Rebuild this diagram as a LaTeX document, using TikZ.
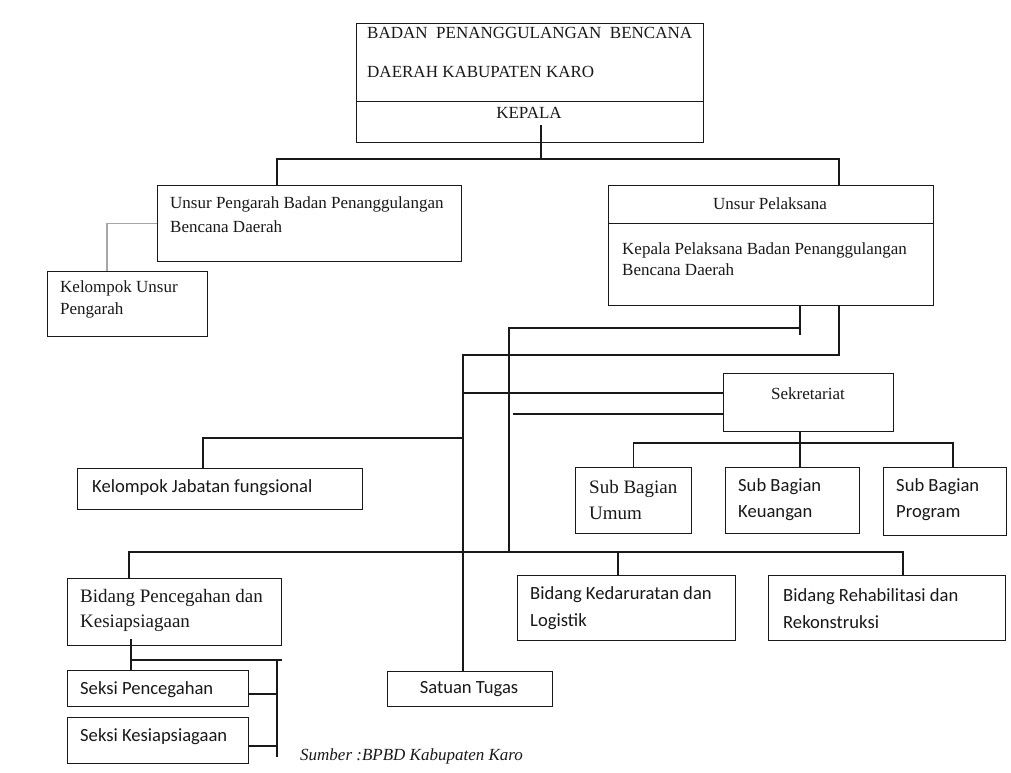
\documentclass[tikz,border=0pt]{standalone}
\usepackage{fontspec}
\setmainfont{Liberation Serif}
\newfontfamily\calibrifont{Carlito}

\tikzset{
  box/.style={draw=black!90, line width=1.4pt, anchor=north west, inner sep=0pt},
  size/.style 2 args={minimum width=#1, minimum height=#2},
  conn/.style={draw=black!90, line width=1.3pt},
  txt/.style={text=black!90, inner sep=0pt, align=left},
  rm/.style={txt, font=\fontsize{17}{24}\selectfont},
  rmbig/.style={txt, font=\fontsize{19}{25}\selectfont},
  sf/.style={txt, font=\calibrifont\fontsize{18.6}{27}\selectfont},
}

\begin{document}
\begin{tikzpicture}[x=1pt, y=-1pt]
        \useasboundingbox[fill=white] (0,0) rectangle (1011,772);

        % head
        \node[box, size={347pt}{78pt}] (head) at (356,23) {};
        \node[box, size={347pt}{41pt}] (kepala) at (356,101) {};
        \node[rm, anchor=west] (head-t1) at (367,33) {\hbox to 325pt{BADAN\hfill PENANGGULANGAN\hfill BENCANA}};
        \node[rm, anchor=west] (head-t2) at (367,72) {DAERAH KABUPATEN KARO};
        \node[rm] (kepala-t) at (529,113) {KEPALA};

        % unsur pengarah
        \node[box, size={304pt}{76pt}] (pengarah) at (157,185) {};
        \node[rm, anchor=west] (pengarah-t) at (170,215) {Unsur Pengarah Badan Penanggulangan\\Bencana Daerah};
        \node[box, size={160pt}{65pt}] (kup) at (47,271) {};
        \node[rm, anchor=west, font=\fontsize{17}{22}\selectfont] (kup-t) at (60,299) {Kelompok Unsur\\Pengarah};

        % unsur pelaksana
        \node[box, size={325pt}{38pt}] (pelhead) at (608,185) {};
        \node[box, size={325pt}{82pt}] (pelbody) at (608,223) {};
        \node[rm] (pelhead-t) at (770,204) {Unsur Pelaksana};
        \node[rm, anchor=west, font=\fontsize{17}{21}\selectfont] (pelbody-t) at (622,259) {Kepala Pelaksana Badan Penanggulangan\\Bencana Daerah};

        % sekretariat
        \node[box, size={170pt}{58pt}] (sekretariat) at (723,373) {};
        \node[rm] (sekretariat-t) at (808,394) {Sekretariat};
        \node[box, size={116pt}{66pt}] (umum) at (575,467) {};
        \node[rmbig, anchor=west, font=\fontsize{19}{26}\selectfont] (umum-t) at (589,500) {Sub Bagian\\Umum};
        \node[box, size={134pt}{66pt}] (keuangan) at (725,467) {};
        \node[sf, anchor=west, font=\calibrifont\fontsize{18.6}{26}\selectfont] (keuangan-t) at (738,500) {Sub Bagian\\Keuangan};
        \node[box, size={123pt}{68pt}] (program) at (883,467) {};
        \node[sf, anchor=west, font=\calibrifont\fontsize{18.6}{26}\selectfont] (program-t) at (896,500) {Sub Bagian\\Program};

        % jabatan fungsional
        \node[box, size={285pt}{41pt}] (jabatan) at (77,468) {};
        \node[sf, anchor=west] (jabatan-t) at (92,488) {Kelompok Jabatan fungsional};

        % bidang
        \node[box, size={214pt}{67pt}] (pencegahan) at (67,578) {};
        \node[rmbig, anchor=west] (pencegahan-t) at (80,610) {Bidang Pencegahan dan\\Kesiapsiagaan};
        \node[box, size={218pt}{65pt}] (darurat) at (517,575) {};
        \node[sf, anchor=west] (darurat-t) at (530,608) {Bidang Kedaruratan dan\\Logistik};
        \node[box, size={237pt}{65pt}] (rehab) at (768,575) {};
        \node[sf, anchor=west] (rehab-t) at (783,609) {Bidang Rehabilitasi dan\\Rekonstruksi};

        % seksi
        \node[box, size={181pt}{36pt}] (seksi1) at (67,670) {};
        \node[sf, anchor=west] (seksi1-t) at (80,690) {Seksi Pencegahan};
        \node[box, size={181pt}{46pt}] (seksi2) at (67,717) {};
        \node[sf, anchor=west] (seksi2-t) at (80,737) {Seksi Kesiapsiagaan};

        % satuan tugas
        \node[box, size={165pt}{35pt}] (satgas) at (387,671) {};
        \node[sf] (satgas-t) at (469,689) {Satuan Tugas};

        % source
        \node[txt, anchor=west, font=\itshape\fontsize{17}{20}\selectfont] (sumber) at (300,756) {Sumber :BPBD Kabupaten Karo};

        % junctions
        \coordinate (kepala-stem) at (541,125);
        \coordinate (top-bar) at (541,159);
        \coordinate (stem-a) at (800,335);
        \coordinate (bus-a) at (800,328);
        \coordinate (bus-b) at (463,355);
        \coordinate (bus-low) at (509,552);
        \coordinate (sek-bar) at (953,443);
        \coordinate (seksi-bar) at (277,660);

        % top lines
        \draw[conn] (kepala-stem) -- (top-bar);
        \draw[conn] (277,0 |- pengarah.north) |- (top-bar) -| (839,0 |- pelhead.north);
        \draw[conn, draw=gray!70] (pengarah.west) -| (107,0 |- kup.north);

        % lines below pelaksana
        \draw[conn] (stem-a |- pelbody.south) -- (stem-a);
        \draw[conn] (bus-a) -| (bus-low);
        \draw[conn] (839,0 |- pelbody.south) |- (bus-b) -- (bus-b |- satgas.north);
        \draw[conn] (bus-b |- 0,393) -- (sekretariat.west |- 0,393);
        \draw[conn] (513,414) -- (sekretariat.west |- 0,414);
        \draw[conn] (bus-b |- 0,438) -| (203,0 |- jabatan.north);
        \draw[conn] (bus-low) -| (129,0 |- pencegahan.north);
        \draw[conn] (bus-low) -| (903,0 |- rehab.north);
        \draw[conn] (618,0 |- bus-low) -- (618,0 |- darurat.north);

        % sekretariat lines
        \draw[conn] (800,0 |- sekretariat.south) -- (800,0 |- keuangan.north);
        \draw[conn] (umum.north) |- (sek-bar) -- (sek-bar |- program.north);

        % seksi lines
        \draw[conn] (131,639) -- (131,0 |- seksi1.north);
        \draw[conn] (131,0 |- seksi-bar) -- (282,0 |- seksi-bar);
        \draw[conn] (seksi-bar) -- (277,757);
        \draw[conn] (seksi1.east |- 0,694) -- (seksi-bar |- 0,694);
        \draw[conn] (seksi2.east |- 0,746) -- (seksi-bar |- 0,746);
\end{tikzpicture}
\end{document}
